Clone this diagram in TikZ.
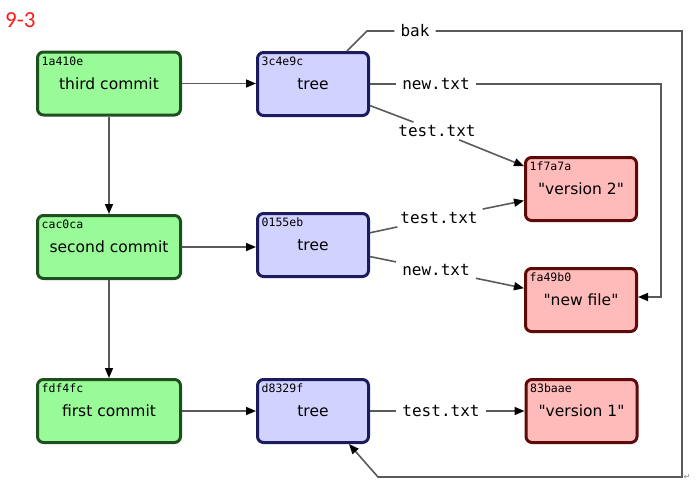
\documentclass[tikz,border=0pt]{standalone}
\usepackage{fontspec}
\setmainfont[Ligatures=TeXReset]{DejaVu Sans}
\newfontfamily\monof{DejaVu Sans Mono}
\newfontfamily\titlef{Carlito}
\usetikzlibrary{arrows.meta}
\definecolor{fgreen}{HTML}{98FB98}
\definecolor{cgreen}{HTML}{1F4F1F}
\definecolor{fblue}{HTML}{D2D2FF}
\definecolor{cblue}{HTML}{1B1B5E}
\definecolor{fred}{HTML}{FFBABA}
\definecolor{cred}{HTML}{5C0A0A}
\definecolor{lgrey}{HTML}{5A5A5A}
\definecolor{titlered}{HTML}{FF1A1A}
\tikzset{
  box/.style={rectangle, rounded corners=6pt, line width=3pt, minimum height=63pt,
    inner sep=0pt, font=\fontsize{15.5}{18}\selectfont},
  commit/.style={box, draw=cgreen, fill=fgreen, minimum width=143pt},
  treebox/.style={box, draw=cblue, fill=fblue, minimum width=111pt},
  blob/.style={box, draw=cred, fill=fred, minimum width=111pt},
  hash/.style={anchor=base west, inner sep=0pt, font=\monof\fontsize{11.5}{13}\selectfont},
  lbl/.style={inner xsep=6pt, inner ysep=3pt, font=\monof\fontsize{16}{18}\selectfont},
  conn/.style={line width=1.6pt, draw=lgrey},
  arr/.style={conn, -{Triangle[length=10pt,width=8pt,fill=black,color=black]}},
}
\begin{document}
\begin{tikzpicture}[x=1pt,y=-1pt]
\useasboundingbox (0,0) rectangle (699,499);
\node[anchor=base west, inner sep=0pt, text=titlered, font=\titlef\fontsize{23}{26}\selectfont] (title) at (5,27) {9-3};

% commits
\node[commit] (c3) at (109,83.5) {third commit};
\node[commit] (c2) at (109,247) {second commit};
\node[commit] (c1) at (109,411) {first commit};
% trees
\node[treebox] (t3) at (313,84) {tree};
\node[treebox] (t2) at (313,245) {tree};
\node[treebox] (t1) at (313,411) {tree};
% blobs
\node[blob] (b2) at (581,189) {"version 2"};
\node[blob] (bn) at (581,300) {"new file"};
\node[blob] (b1) at (581.5,411) {"version 1"};

% hashes
\node[hash] (h3) at ([xshift=5.5pt,yshift=-14.5pt]c3.north west) {1a410e};
\node[hash] (h2) at ([xshift=5.5pt,yshift=-14.5pt]c2.north west) {cac0ca};
\node[hash] (h1) at ([xshift=5.5pt,yshift=-14.5pt]c1.north west) {fdf4fc};
\node[hash] (ht3) at ([xshift=5.5pt,yshift=-14.5pt]t3.north west) {3c4e9c};
\node[hash] (ht2) at ([xshift=5.5pt,yshift=-14.5pt]t2.north west) {0155eb};
\node[hash] (ht1) at ([xshift=5.5pt,yshift=-14.5pt]t1.north west) {d8329f};
\node[hash] (hb2) at ([xshift=5.5pt,yshift=-14.5pt]b2.north west) {1f7a7a};
\node[hash] (hbn) at ([xshift=5.5pt,yshift=-14.5pt]bn.north west) {fa49b0};
\node[hash] (hb1) at ([xshift=5.5pt,yshift=-14.5pt]b1.north west) {83baae};

% labels
\node[lbl] (bak) at (415,31) {bak};
\node[lbl] (nt3) at (436,84) {new.txt};
\node[lbl] (tt3) at (437,131) {test.txt};
\node[lbl] (tt2) at (439,218) {test.txt};
\node[lbl] (nt2) at (436,270) {new.txt};
\node[lbl] (tt1) at (441,411) {test.txt};

% commit connectors
\draw[arr] (c3.east) -- (c3.east -| t3.west);
\draw[arr] (c2.east) -- (c2.east -| t2.west);
\draw[arr] (c1.east) -- (c1.east -| t1.west);
\draw[arr] (c3.south) -- (c2.north);
\draw[arr] (c2.south) -- (c1.north);

% tree 3c4e9c
\draw[conn] ([xshift=34pt]t3.north) -- (367,31) -- (bak.west);
\draw[arr] (bak.east) -- (682,31) -- (682,477) -- (378,477) -- ([xshift=36pt]t1.south);
\draw[conn] (t3.east) -- (nt3.west);
\draw[arr] (nt3.east) -- (661,84) -- (661,297) -- ([yshift=3pt]bn.east);
\draw[conn] (t3) -- (tt3);
\draw[arr] (tt3) -- (b2);

% tree 0155eb
\draw[conn] (t2) -- (tt2);
\draw[arr] (tt2) -- (b2);
\draw[conn] (t2) -- (nt2);
\draw[arr] (nt2) -- (bn);

% tree d8329f
\draw[conn] (t1.east) -- (tt1.west);
\draw[arr] (tt1.east) -- (b1.west);

\node[anchor=center, inner sep=0pt, text=gray, font=\fontsize{8}{9}\selectfont] (pm) at (687,477) {↵};
\end{tikzpicture}
\end{document}
